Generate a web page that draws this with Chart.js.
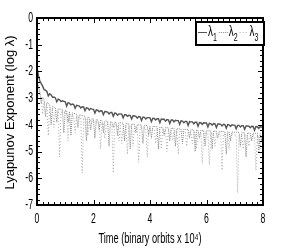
<!DOCTYPE html>
<html><head><meta charset="utf-8">
<script src="https://cdn.jsdelivr.net/npm/chart.js@4/dist/chart.umd.min.js"></script>
<style>html,body{margin:0;padding:0;background:#fff;}#wrap{width:291px;height:249px;}</style>
</head><body><div id="wrap"><canvas id="c" width="291" height="249"></canvas></div>
<script>
const times = [0,0.05,0.1,0.15,0.2,0.25,0.3,0.35,0.4,0.45,0.5,0.55,0.6,0.65,0.7,0.75,0.8,0.85,0.9,0.95,
 1,1.05,1.1,1.15,1.2,1.25,1.3,1.35,1.4,1.45,1.5,1.55,1.6,1.65,1.7,1.75,1.8,1.85,1.9,1.95,
 2,2.05,2.1,2.15,2.2,2.25,2.3,2.35,2.4,2.45,2.5,2.55,2.6,2.65,2.7,2.75,2.8,2.85,2.9,2.95,
 3,3.05,3.1,3.15,3.2,3.25,3.3,3.35,3.4,3.45,3.5,3.55,3.6,3.65,3.7,3.75,3.8,3.85,3.9,3.95,
 4,4.05,4.1,4.15,4.2,4.25,4.3,4.35,4.4,4.45,4.5,4.55,4.6,4.65,4.7,4.75,4.8,4.85,4.9,4.95,
 5,5.05,5.1,5.15,5.2,5.25,5.3,5.35,5.4,5.45,5.5,5.55,5.6,5.65,5.7,5.75,5.8,5.85,5.9,5.95,
 6,6.05,6.1,6.15,6.2,6.25,6.3,6.35,6.4,6.45,6.5,6.55,6.6,6.65,6.7,6.75,6.8,6.85,6.9,6.95,
 7,7.05,7.1,7.15,7.2,7.25,7.3,7.35,7.4,7.45,7.5,7.55,7.6,7.65,7.7,7.75,7.8,7.85,7.9,7.95,8];
const lambda1 = [-1.85,-2.15,-2.35,-2.46,-2.55,-2.68,-2.7,-2.75,-2.92,-2.84,-2.88,-2.97,-2.96,-2.99,-3.14,-3.04,-3.06,-3.13,-3.1,-3.12,
 -3.14,-3.3,-3.17,-3.19,-3.25,-3.22,-3.24,-3.38,-3.27,-3.28,-3.3,-3.37,-3.32,-3.33,-3.47,-3.36,-3.37,-3.44,-3.39,-3.41,
 -3.42,-3.56,-3.44,-3.45,-3.51,-3.47,-3.48,-3.62,-3.5,-3.51,-3.52,-3.59,-3.54,-3.54,-3.68,-3.56,-3.57,-3.64,-3.59,-3.59,
 -3.6,-3.74,-3.62,-3.62,-3.68,-3.64,-3.65,-3.78,-3.66,-3.67,-3.68,-3.75,-3.69,-3.7,-3.84,-3.71,-3.72,-3.78,-3.73,-3.73,
 -3.74,-3.88,-3.75,-3.76,-3.82,-3.77,-3.77,-3.92,-3.78,-3.79,-3.79,-3.86,-3.8,-3.81,-3.95,-3.82,-3.82,-3.89,-3.83,-3.84,
 -3.84,-3.98,-3.85,-3.86,-3.92,-3.87,-3.87,-4.02,-3.88,-3.89,-3.89,-3.96,-3.9,-3.9,-4.05,-3.91,-3.92,-3.98,-3.92,-3.93,
 -3.93,-4.08,-3.94,-3.95,-4.01,-3.95,-3.96,-4.1,-3.97,-3.97,-3.98,-4.04,-3.98,-3.99,-4.13,-3.99,-4.0,-4.06,-4.0,-4.01,
 -4.01,-4.15,-4.02,-4.02,-4.08,-4.03,-4.03,-4.17,-4.04,-4.04,-4.05,-4.11,-4.05,-4.06,-4.2,-4.06,-4.07,-4.13,-4.07,-4.08,-4.08];
const lambda2 = [-2.2,-2.55,-2.75,-3.2,-2.97,-3.04,-3.7,-3.15,-3.2,-3.24,-4.0,-3.31,-3.34,-3.37,-3.9,-3.4,-3.41,-3.42,-3.43,-4.3,
 -3.45,-3.47,-3.9,-3.51,-4.4,-3.55,-3.57,-3.58,-3.6,-4.1,-3.62,-3.64,-3.65,-3.67,-3.68,-4.6,-3.71,-3.73,-4.2,-3.76,
 -3.78,-4.5,-3.8,-3.81,-4.2,-3.83,-3.84,-4.3,-3.86,-3.86,-3.87,-4.8,-3.88,-3.89,-4.1,-3.9,-3.91,-4.4,-3.92,-3.92,
 -3.93,-3.94,-4.6,-3.95,-3.96,-3.96,-4.9,-3.97,-3.98,-3.98,-4.3,-3.99,-4.0,-4.0,-4.01,-4.7,-4.02,-4.02,-4.03,-4.4,
 -4.05,-4.5,-4.06,-4.06,-4.07,-4.07,-4.9,-4.08,-4.09,-4.09,-4.4,-4.1,-4.11,-4.11,-4.6,-4.12,-4.13,-4.13,-4.8,-4.14,
 -4.15,-4.15,-4.16,-4.7,-4.16,-4.17,-4.17,-4.17,-4.5,-4.18,-4.18,-4.19,-5.0,-4.19,-4.2,-4.5,-4.2,-4.21,-4.21,-4.8,
 -4.22,-4.22,-4.22,-4.23,-4.9,-4.23,-4.24,-4.24,-4.5,-4.25,-4.25,-4.25,-4.25,-4.26,-5.1,-4.26,-4.27,-4.6,-4.27,-4.27,
 -4.28,-4.28,-4.28,-4.29,-4.8,-4.29,-4.3,-4.3,-5.2,-4.3,-4.31,-4.31,-4.6,-4.31,-4.32,-4.32,-4.32,-5.0,-4.33,-4.6,-4.33];
const lambda3 = [-2.3,-2.65,-2.85,-2.98,-3.6,-3.14,-3.2,-3.25,-4.4,-3.34,-3.38,-3.41,-4.1,-3.47,-3.49,-3.5,-5.2,-3.52,-3.53,-3.54,
 -3.55,-3.57,-4.6,-3.61,-3.63,-3.65,-3.67,-4.3,-3.7,-3.71,-3.72,-3.74,-5.8,-3.77,-3.78,-3.8,-4.4,-3.83,-3.84,-3.86,
 -3.88,-3.89,-3.9,-3.91,-3.92,-4.9,-3.94,-3.95,-4.5,-3.96,-3.97,-3.98,-3.98,-3.99,-5.8,-4.0,-4.01,-4.01,-4.6,-4.02,
 -4.7,-4.04,-4.04,-4.05,-5.1,-4.06,-4.07,-4.07,-4.8,-4.08,-4.09,-4.09,-5.4,-4.1,-4.11,-4.11,-4.12,-4.12,-5.2,-4.14,
 -4.15,-4.15,-4.16,-4.16,-4.7,-4.17,-4.18,-4.18,-4.9,-4.19,-4.2,-4.2,-5.0,-4.21,-4.22,-4.22,-4.6,-4.23,-4.24,-4.24,
 -5.1,-4.25,-4.26,-4.26,-4.26,-4.27,-4.8,-4.27,-4.28,-4.28,-4.7,-4.29,-4.29,-4.9,-4.3,-4.3,-4.3,-5.45,-4.31,-4.31,
 -4.32,-4.32,-5.5,-4.33,-4.33,-4.33,-4.8,-4.34,-4.34,-4.35,-4.35,-5.7,-4.35,-4.36,-4.36,-4.36,-4.9,-4.37,-4.37,-4.37,
 -4.38,-4.38,-6.55,-4.39,-4.39,-4.39,-4.9,-4.4,-4.4,-4.4,-4.8,-4.41,-4.41,-4.41,-4.42,-5.7,-4.42,-4.42,-4.9,-4.43,-4.43];
const seriesNames = ['λ1','λ2','λ3'];
const xTicks = [0,2,4,6,8];
const yTicks = [0,-1,-2,-3,-4,-5,-6,-7];
const xTitle = 'Time (binary orbits x 10⁴)';
const yTitle = 'Lyapunov Exponent (log λ)';

const FONT = '"Liberation Sans", Arial, sans-serif';
const toXY = (vals) => vals.map((v,i) => ({x: times[i], y: v}));

function txt(ctx, s, x, y, size, align, sx, rot) {
  ctx.save();
  ctx.translate(x, y);
  if (rot) ctx.rotate(rot);
  ctx.scale(sx, 1);
  ctx.font = size + 'px ' + FONT;
  ctx.textAlign = align;
  ctx.textBaseline = 'middle';
  ctx.fillStyle = '#000';
  ctx.fillText(s, 0, 0);
  const w = ctx.measureText(s).width * sx;
  ctx.restore();
  return w;
}

const frameTicks = {
  id: 'frameTicks',
  afterDatasetsDraw(chart) {
    const {ctx, chartArea: a, scales: {x, y}} = chart;
    ctx.save();
    ctx.strokeStyle = '#000';
    ctx.lineWidth = 1;
    ctx.beginPath();
    for (let k = 0; k <= 40; k++) {
      const v = k * 0.2;
      const px = Math.round(x.getPixelForValue(v)) + 0.5;
      const len = (k % 10 === 0) ? 5 : 3;
      ctx.moveTo(px, a.bottom); ctx.lineTo(px, a.bottom - len);
      ctx.moveTo(px, a.top); ctx.lineTo(px, a.top + len);
    }
    for (let k = 0; k <= 35; k++) {
      const v = -k * 0.2;
      const py = Math.round(y.getPixelForValue(v)) + 0.5;
      const len = (k % 5 === 0) ? 5 : 3;
      ctx.moveTo(a.left, py); ctx.lineTo(a.left + len, py);
      ctx.moveTo(a.right, py); ctx.lineTo(a.right - len, py);
    }
    ctx.stroke();
    ctx.lineWidth = 2;
    ctx.strokeRect(a.left, a.top, a.right - a.left, a.bottom - a.top);
    // tick labels and titles
    xTicks.forEach(v => txt(ctx, String(v), x.getPixelForValue(v), a.bottom + 14, 14, 'center', 0.62));
    yTicks.forEach(v => txt(ctx, String(v), a.left - 4, y.getPixelForValue(v), 14, 'right', 0.62));
    txt(ctx, xTitle, (a.left + a.right) / 2, 239, 14, 'center', 0.66);
    txt(ctx, yTitle, 10, (a.top + a.bottom) / 2 + 1, 13, 'center', 1, -Math.PI / 2);
    // legend
    const lx = 196, ly = 22, lw = 68, lh = 23;
    ctx.fillStyle = '#fff';
    ctx.fillRect(lx, ly, lw, lh);
    ctx.lineWidth = 2;
    ctx.strokeStyle = '#000';
    ctx.strokeRect(lx, ly, lw, lh);
    const ds = chart.data.datasets;
    let cx = lx + 2;
    const cy = ly + 10;
    ds.forEach((d, i) => {
      ctx.strokeStyle = d.borderColor;
      ctx.lineWidth = 1;
      ctx.setLineDash(d.borderDash || []);
      ctx.beginPath(); ctx.moveTo(cx, cy + 0.5); ctx.lineTo(cx + 9, cy + 0.5); ctx.stroke();
      ctx.setLineDash([]);
      cx += 10;
      cx += txt(ctx, 'λ', cx, cy, 14, 'left', 0.7);
      cx += txt(ctx, seriesNames[i].slice(1), cx, cy + 6, 10, 'left', 0.7) + 2;
    });
    ctx.restore();
  }
};

new Chart(document.getElementById('c'), {
  type: 'line',
  data: {
    datasets: [
      {label: seriesNames[0], data: toXY(lambda1), borderColor: '#555', borderWidth: 1.4, pointRadius: 0, tension: 0},
      {label: seriesNames[1], data: toXY(lambda2), borderColor: '#888', borderWidth: 1, borderDash: [1, 1], pointRadius: 0, tension: 0},
      {label: seriesNames[2], data: toXY(lambda3), borderColor: '#aaa', borderWidth: 1, borderDash: [1, 2], pointRadius: 0, tension: 0}
    ]
  },
  options: {
    responsive: false,
    animation: false,
    layout: {padding: {top: 18, right: 28, left: 0, bottom: 0}},
    plugins: {legend: {display: false}, tooltip: {enabled: false}},
    scales: {
      x: {
        type: 'linear', min: 0, max: 8,
        afterFit(s) { s.height = 44; },
        grid: {display: false, drawTicks: false},
        border: {display: false},
        ticks: {display: false}
      },
      y: {
        type: 'linear', min: -7, max: 0,
        afterFit(s) { s.width = 37; },
        grid: {display: false, drawTicks: false},
        border: {display: false},
        ticks: {display: false}
      }
    }
  },
  plugins: [frameTicks]
});
</script></body></html>
